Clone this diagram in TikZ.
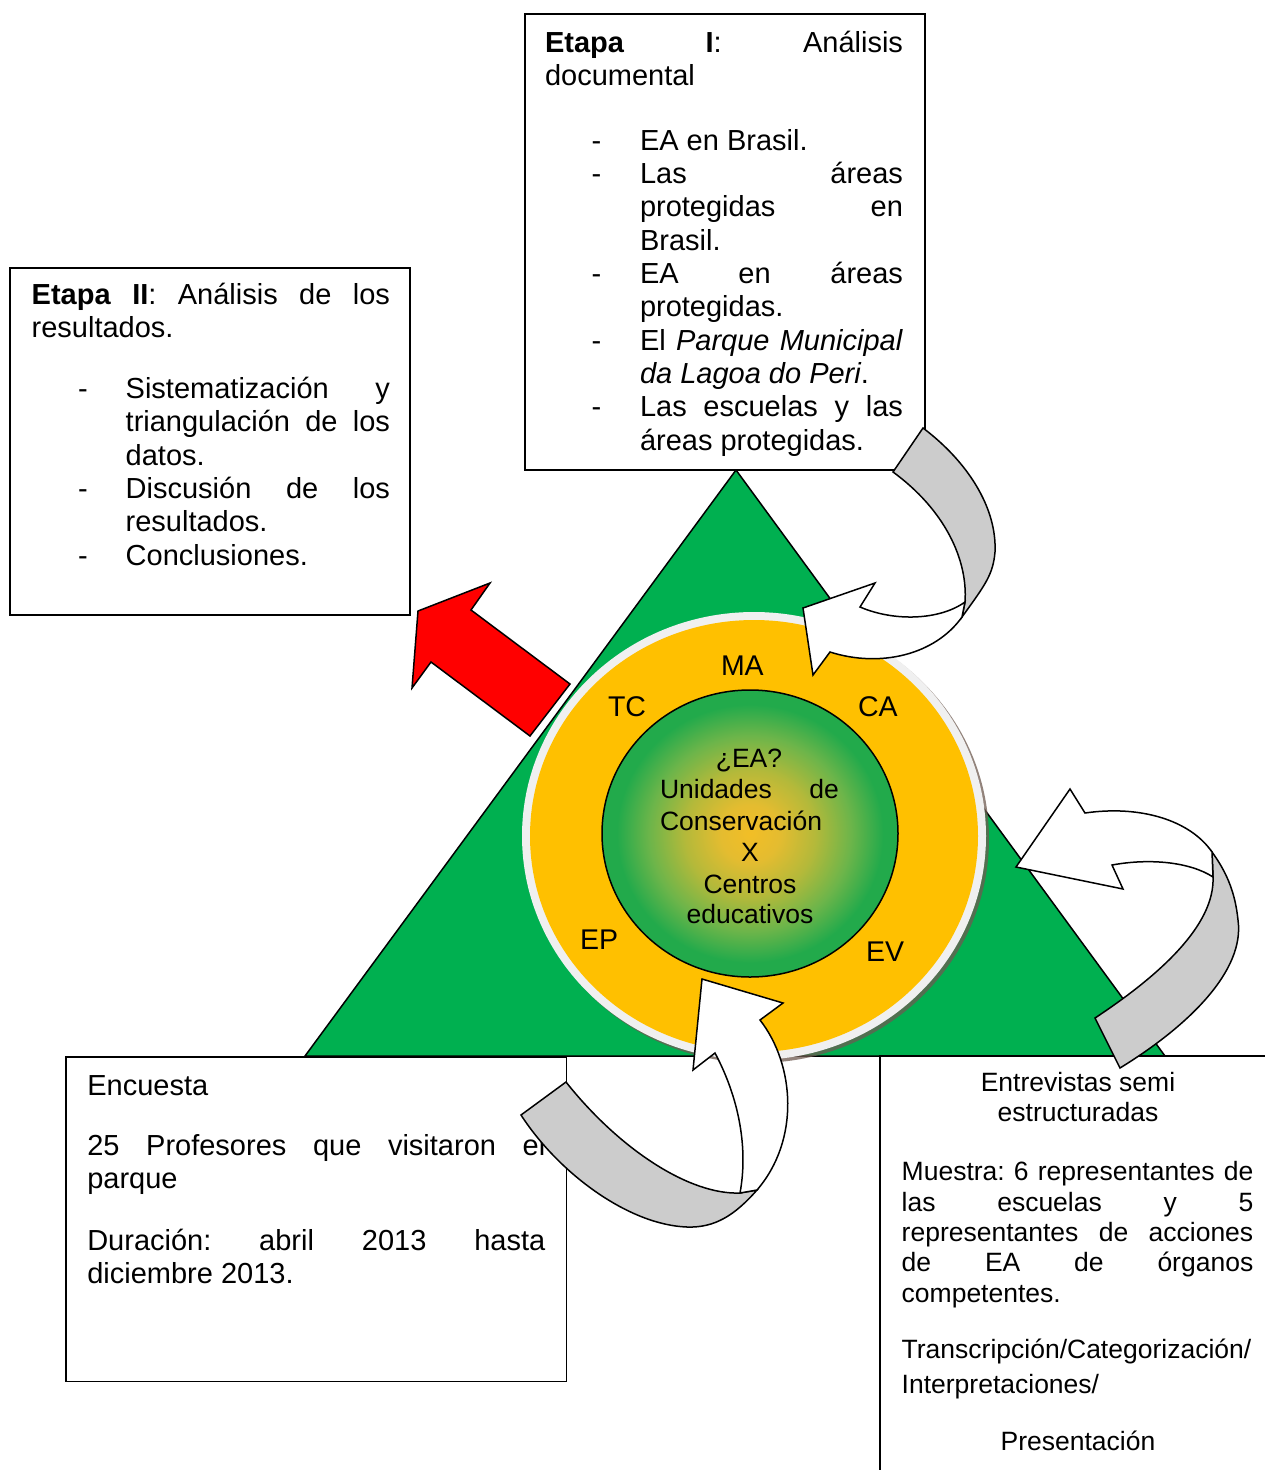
\documentclass[tikz,border=0pt]{standalone}
\usepackage{fontspec}
\setmainfont{Liberation Sans}
\definecolor{trigreen}{HTML}{00B050}
\definecolor{ringgray}{HTML}{F0F0F0}
\definecolor{ringyellow}{HTML}{FFC000}
\definecolor{arrgray}{HTML}{CCCCCC}
\definecolor{ctrgold}{HTML}{F2BE26}
\definecolor{gold2}{HTML}{E4BC30}
\definecolor{olive2}{HTML}{B4B93A}
\definecolor{midgreen}{HTML}{6DB54A}
\definecolor{edgegreen}{HTML}{22AA4B}
\definecolor{shadowc}{HTML}{6E5A50}
\pgfdeclareradialshading{eashade}{\pgfpoint{0bp}{0bp}}{color(0bp)=(ctrgold); color(5bp)=(gold2); color(11bp)=(olive2); color(17bp)=(midgreen); color(22.5bp)=(edgegreen); color(25bp)=(edgegreen); color(50bp)=(edgegreen)}
\begin{document}
\begin{tikzpicture}[x=1pt,y=-1pt,
  every node/.style={inner sep=0pt, outer sep=0pt},
  boxline/.style={draw=black, line width=1.5pt, fill=white},
  ln/.style={anchor=base west, font=\fontsize{29}{34}\selectfont},
  sm/.style={anchor=base west, font=\fontsize{26.5}{31}\selectfont},
  smc/.style={anchor=base, font=\fontsize{26.5}{31}\selectfont},
  lab/.style={anchor=base west, font=\fontsize{28.5}{33}\selectfont},
  arrw/.style={draw=black, line width=1.5pt, fill=white},
  arrg/.style={draw=black, line width=1.5pt, fill=arrgray},
  arrr/.style={draw=black, line width=1.5pt, fill=red}]
\useasboundingbox (0,0) rectangle (1265,1470);
\clip (0,0) rectangle (1265,1470);
\fill[white] (0,0) rectangle (1265,1470);

% triangle
\draw[fill=trigreen, line width=1.5pt] (736,470) -- (1165,1056) -- (305,1056) -- cycle;

% circles
\fill[shadowc, opacity=0.75] (757,839) ellipse [x radius=232, y radius=224];
\fill[ringgray] (754,836) ellipse [x radius=232, y radius=224];
\fill[ringyellow] (754,836) ellipse [x radius=224, y radius=216];
\path[shading=eashade] (750,833.5) ellipse [x radius=148, y radius=143.5];
\draw[line width=1.5pt] (750,833.5) ellipse [x radius=148, y radius=143.5];

% circle labels
\node[lab] (lMA) at (721,675) {MA};
\node[lab] (lTC) at (608,716) {TC};
\node[lab] (lCA) at (858,716) {CA};
\node[lab] (lEP) at (580,949) {EP};
\node[lab] (lEV) at (866,961.7) {EV};

% centre text
\node[smc] (c1) at (749,767.7) {¿EA?};
\node[sm] (c2) at (660,798.3) {\hbox to 179pt{Unidades\hfill de}};
\node[sm] (c3) at (660,830) {Conservación};
\node[smc] (c4) at (750,861.7) {X};
\node[smc] (c5) at (750,893.3) {Centros};
\node[smc] (c6) at (750,923.3) {educativos};

% boxes
\draw[boxline] (66,1057) rectangle (566.7,1381.7);
\draw[line width=1.5pt] (1300,1056) -- (880,1056) -- (880,1500);
\draw[boxline] (525,14) rectangle (925,470);
\draw[boxline] (10,268) rectangle (410,615);

% Etapa I text
\node[ln] (a1) at (545,52.7) {\hbox to 358pt{\textbf{Etapa}\hfill\textbf{I}:\hfill Análisis}};
\node[ln] (a2) at (545,85.5) {documental};
\node[ln] (ad1) at (591.5,150) {-};
\node[ln] (a3) at (640,150) {EA en Brasil.};
\node[ln] (ad2) at (591.5,183.3) {-};
\node[ln] (a4) at (640,183.3) {\hbox to 263pt{Las\hfill áreas}};
\node[ln] (a5) at (640,216.7) {\hbox to 263pt{protegidas\hfill en}};
\node[ln] (a6) at (640,250) {Brasil.};
\node[ln] (ad3) at (591.5,283.3) {-};
\node[ln] (a7) at (640,283.3) {\hbox to 263pt{EA\hfill en\hfill áreas}};
\node[ln] (a8) at (640,316.7) {protegidas.};
\node[ln] (ad4) at (591.5,350) {-};
\node[ln] (a9) at (640,350) {\hbox to 263pt{El\hfill\textit{Parque}\hfill\textit{Municipal}}};
\node[ln] (a10) at (640,383.3) {\textit{da Lagoa do Peri}.};
\node[ln] (ad5) at (591.5,416.7) {-};
\node[ln] (a11) at (640,416.7) {\hbox to 263pt{Las\hfill escuelas\hfill y\hfill las}};
\node[ln] (a12) at (640,450) {áreas protegidas.};

% Etapa II text
\node[ln] (b1) at (31.7,304.3) {\hbox to 358.3pt{\textbf{Etapa}\hfill\textbf{II}:\hfill Análisis\hfill de\hfill los}};
\node[ln] (b2) at (31.7,337.7) {resultados.};
\node[ln] (bd1) at (78,398.3) {-};
\node[ln] (b3) at (125.7,398.3) {\hbox to 264.3pt{Sistematización\hfill y}};
\node[ln] (b4) at (125.7,431.7) {\hbox to 264.3pt{triangulación\hfill de\hfill los}};
\node[ln] (b5) at (125.7,465) {datos.};
\node[ln] (bd2) at (78,498.3) {-};
\node[ln] (b6) at (125.7,498.3) {\hbox to 264.3pt{Discusión\hfill de\hfill los}};
\node[ln] (b7) at (125.7,531.7) {resultados.};
\node[ln] (bd3) at (78,565) {-};
\node[ln] (b8) at (125.7,565) {Conclusiones.};

% Encuesta text
\node[ln] (e1) at (87.3,1095.7) {Encuesta};
\node[ln] (e2) at (87.3,1155) {\hbox to 458pt{25\hfill Profesores\hfill que\hfill visitaron\hfill el}};
\node[ln] (e3) at (87.3,1188.3) {parque};
\node[ln] (e4) at (87.3,1250) {\hbox to 458pt{Duración:\hfill abril\hfill 2013\hfill hasta}};
\node[ln] (e5) at (87.3,1283.3) {diciembre 2013.};

% Entrevistas text
\node[smc] (r1) at (1078,1091.7) {Entrevistas semi};
\node[smc] (r2) at (1078,1121.7) {estructuradas};
\node[sm] (r3) at (901.7,1180) {\hbox to 351.6pt{Muestra:\hfill 6\hfill representantes\hfill de}};
\node[sm] (r4) at (901.7,1211.7) {\hbox to 351.6pt{las\hfill escuelas\hfill y\hfill 5}};
\node[sm] (r5) at (901.7,1241.7) {\hbox to 351.6pt{representantes\hfill de\hfill acciones}};
\node[sm] (r6) at (901.7,1271.7) {\hbox to 351.6pt{de\hfill EA\hfill de\hfill órganos}};
\node[sm] (r7) at (901.7,1302.7) {competentes.};
\node[sm] (r8) at (901.7,1358.3) {Transcripción/Categorización/};
\node[sm] (r9) at (901.7,1393.3) {Interpretaciones/};
\node[smc] (r10) at (1078,1450) {Presentación};

% red arrow
\draw[arrr] (418,611) -- (490,583) -- (471,610) -- (570,684) -- (530,736) -- (431,662) -- (412,688) -- cycle;

% top curved arrow
\draw[arrg] (893,472) -- (923,428) .. controls (968,462) and (997,508) .. (995,552)
  .. controls (993,575) and (985,585) .. (962,617) -- (965,602)
  .. controls (968,560) and (945,510) .. (893,472) -- cycle;
\draw[arrw] (962,617) .. controls (935,655) and (880,668) .. (830,652) -- (813,675) -- (803,608)
  -- (875,583) -- (860,607) .. controls (895,622) and (940,620) .. (965,602) -- cycle;

% bottom curved arrow
\draw[arrg] (521,1115) -- (566,1082) .. controls (620,1150) and (690,1195) .. (740,1193) -- (757,1190)
  .. controls (735,1215) and (715,1228) .. (687,1227)
  .. controls (630,1225) and (560,1175) .. (521,1115) -- cycle;
\draw[arrw] (740,1193) .. controls (748,1150) and (740,1100) .. (715,1053) -- (693,1070) -- (702,979)
  -- (783,1003) -- (760,1020) .. controls (795,1065) and (800,1140) .. (757,1190) -- cycle;

% right curved arrow
\draw[arrg] (1095,1018) -- (1120,1068) .. controls (1190,1025) and (1245,970) .. (1238,920)
  .. controls (1235,890) and (1225,870) .. (1212,852) -- (1213,877)
  .. controls (1215,925) and (1160,975) .. (1095,1018) -- cycle;
\draw[arrw] (1212,852) .. controls (1190,820) and (1140,805) .. (1085,813) -- (1070,789) -- (1016,867)
  -- (1123,889) -- (1112,865) .. controls (1150,858) and (1190,862) .. (1213,877) -- cycle;
\end{tikzpicture}
\end{document}
